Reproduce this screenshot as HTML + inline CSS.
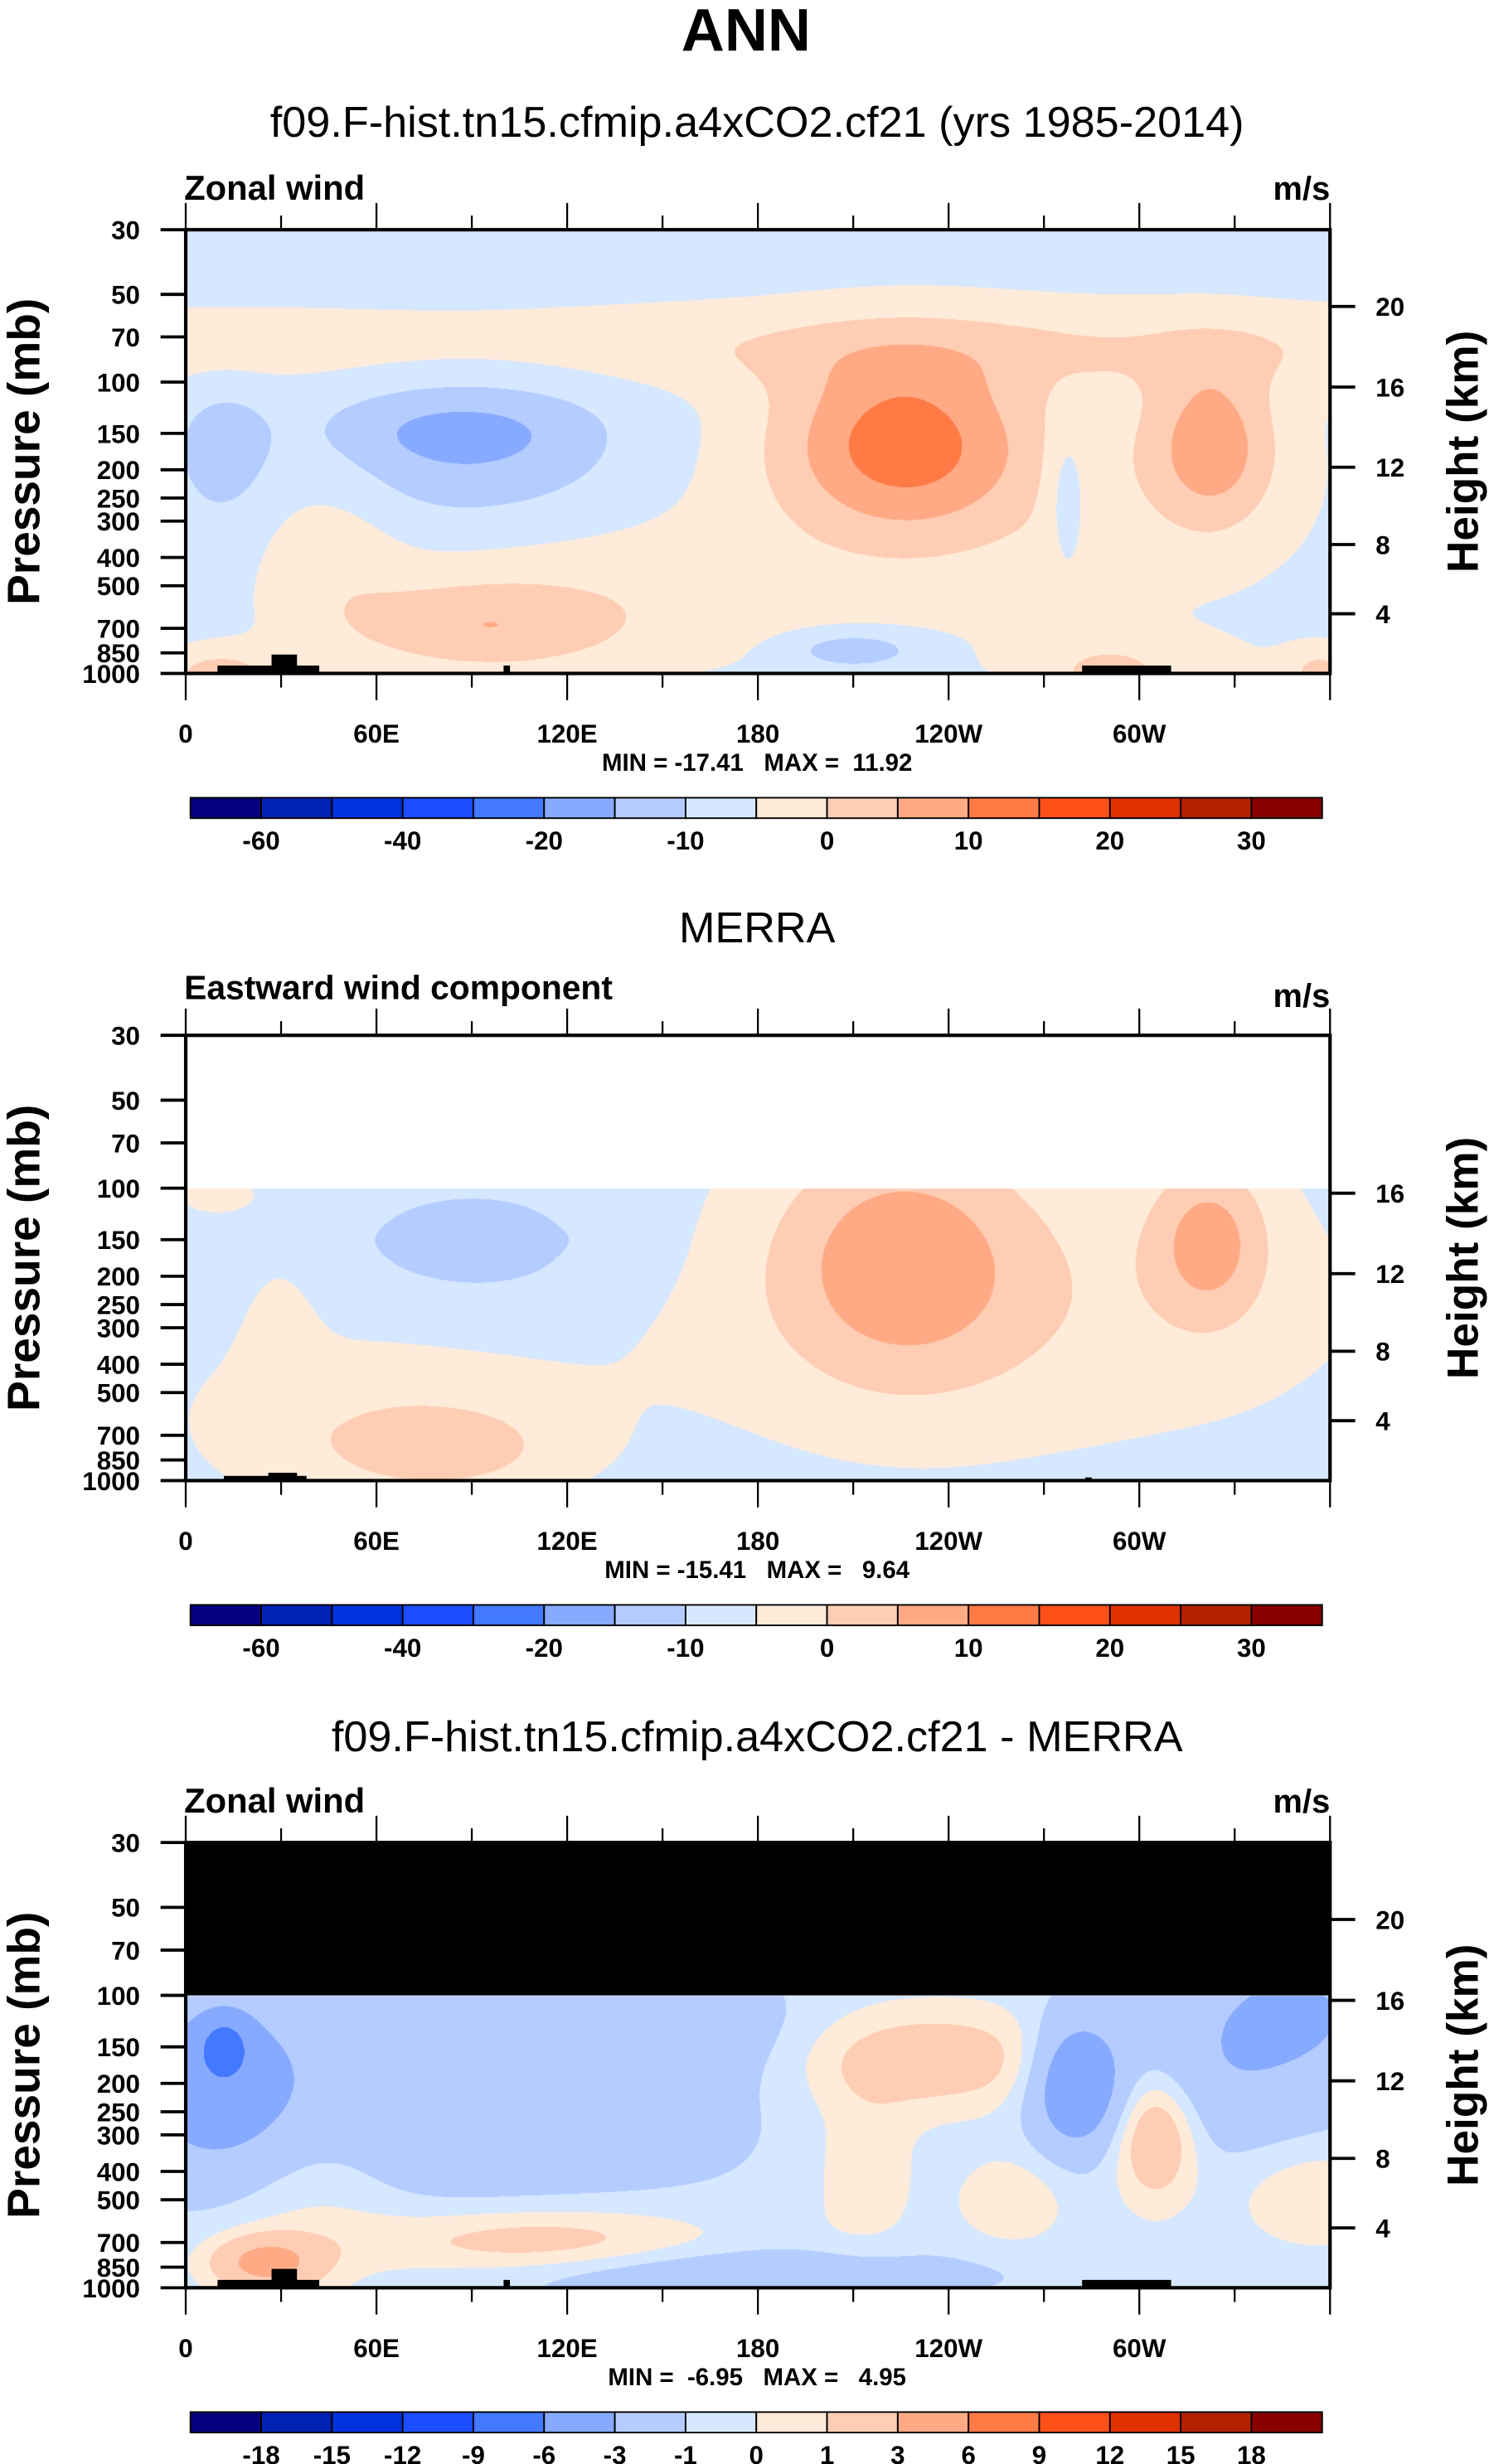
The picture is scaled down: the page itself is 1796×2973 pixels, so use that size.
<!DOCTYPE html>
<html><head><meta charset="utf-8">
<style>
html,body{margin:0;padding:0;background:#fff;}
#wrap{position:relative;width:1796px;height:2973px;overflow:hidden;background:#fff;}
canvas{position:absolute;}
svg{position:absolute;left:0;top:0;}
text{font-family:"Liberation Sans",Arial,sans-serif;white-space:pre;}
</style></head>
<body>
<div id="wrap">
<canvas id="c1"></canvas>
<canvas id="c2"></canvas>
<canvas id="c3"></canvas>
<svg id="svg" width="1796" height="2973" viewBox="0 0 946 1566" preserveAspectRatio="none"></svg>
</div>
<script>
// ---------- data ----------
const colors = ["#06007f","#0022b4","#0033dd","#1a4dff","#4279ff","#86aaff","#b4ccff","#d5e8ff","#ffebd9","#ffcdb4","#ffaa85","#ff7a45","#ff5019","#e03000","#b32200","#880000"];
const levelsWind = [-60,-50,-40,-30,-20,-15,-10,-5,0,5,10,15,20,25,30];
const labelsWind = ["-60","","-40","","-20","","-10","","0","","10","","20","","30"];
const levelsDiff = [-18,-15,-12,-9,-6,-3,-1,0,1,3,6,9,12,15,18];
const labelsDiff = ["-18","-15","-12","-9","-6","-3","-1","0","1","3","6","9","12","15","18"];
const pressTicks = [30,50,70,100,150,200,250,300,400,500,700,850,1000];
const lonTicks = [0,60,120,180,240,300];
const lonLabels = ["0","60E","120E","180","120W","60W"];
const heightTicks = [4,8,12,16,20];
const heightP = [624,361,196,104,55];

// panel 1 field (model): base + blobs [lon, pressure, amplitude, lonWidth, logpWidth]
const p1Base = -7.5;
const p1Lon  = [180, 225, 255, 323, 277, 90, 12, 115, 45, 92, 210, 10, 290, 357, 300, 85];
const p1Pres = [75, 160, 230, 165, 230, 160, 170, 580, 360, 700, 830, 1000, 1000, 1000, 950, 150];
const p1Amp  = [5.5, 16, 5.5, 13, -6, -8, -5, 5, 4.5, 8, -8, 9, 8, 8, 4, -3];
const p1WLon = [1000, 27, 75, 14, 5, 35, 10, 55, 16, 30, 14, 14, 8, 8, 30, 20];
const p1WLp  = [0.25, 0.5, 0.85, 0.45, 0.4, 0.45, 0.38, 0.45, 0.5, 0.25, 0.1, 0.15, 0.1, 0.15, 0.2, 0.15];

// panel 2 field (MERRA)
const p2Base = -7.5;
const p2Lon  = [225, 255, 322, 95, 92, 55, 82, 30, 10];
const p2Pres = [170, 250, 150, 160, 150, 620, 780, 330, 105];
const p2Amp  = [12, 6, 12, -5, -3.5, 5, 7, 4, 4];
const p2WLon = [28, 85, 13, 35, 12, 45, 26, 8, 12];
const p2WLp  = [0.7, 0.85, 0.45, 0.4, 0.06, 0.55, 0.25, 0.5, 0.15];

// panel 3 field (difference)
const p3Base = -0.5;
const p3Lon  = [85, 10, 12, 330, 280, 170, 235, 213, 305, 355, 110, 25, 40, 260, 150, 350];
const p3Pres = [230, 200, 150, 170, 200, 900, 165, 380, 300, 470, 700, 820, 460, 500, 130, 110];
const p3Amp  = [-2.2, -3.4, -4.5, -2.4, -5, -2, 2.6, 1.2, 3.6, 1.4, 2.5, 4.2, 1.1, 1.3, -1.5, -2];
const p3WLon = [60, 18, 5, 30, 10, 55, 30, 12, 9, 18, 38, 12, 20, 12, 30, 15];
const p3WLp  = [0.6, 0.5, 0.15, 0.5, 0.35, 0.15, 0.28, 0.5, 0.35, 0.3, 0.2, 0.15, 0.6, 0.25, 0.3, 0.25];

// ---------- layout ----------
const S = 1796/946;
const X0 = 118, X1 = 845;
const panels = [
 {top:146,bot:428,canvas:'c1',base:p1Base,lon:p1Lon,pres:p1Pres,amp:p1Amp,wl:p1WLon,wp:p1WLp,levels:levelsWind,pmin:30,cbY:507,labels:labelsWind,
  title:"f09.F-hist.tn15.cfmip.a4xCO2.cf21 (yrs 1985-2014)",titleY:87,left:"Zonal wind",leftY:127,lfs:22,minmax:"MIN = -17.41   MAX =  11.92",heights:[4,8,12,16,20],topo:true,name:'model'},
 {top:658,bot:941,canvas:'c2',base:p2Base,lon:p2Lon,pres:p2Pres,amp:p2Amp,wl:p2WLon,wp:p2WLp,levels:levelsWind,pmin:100,cbY:1020,labels:labelsWind,
  title:"MERRA",titleY:599,left:"Eastward wind component",leftY:635,lfs:21.5,minmax:"MIN = -15.41   MAX =   9.64",heights:[4,8,12,16],topo:'small',name:'merra'},
 {top:1171,bot:1454,canvas:'c3',base:p3Base,lon:p3Lon,pres:p3Pres,amp:p3Amp,wl:p3WLon,wp:p3WLp,levels:levelsDiff,pmin:100,cbY:1533,labels:labelsDiff,
  title:"f09.F-hist.tn15.cfmip.a4xCO2.cf21 - MERRA",titleY:1113,left:"Zonal wind",leftY:1152,lfs:22,minmax:"MIN =  -6.95   MAX =   4.95",heights:[4,8,12,16,20],topo:true,black:true,name:'difference'}
];
const LR = Math.log(1000/30);
function xOf(lon){return X0 + (X1-X0)*lon/360;}
function yOf(pn,p){return pn.bot - (pn.bot-pn.top)*Math.log(1000/p)/LR;}

function field(pn,lon,p){
  let v = pn.base;
  for(let i=0;i<pn.lon.length;i++){
    const dl=(lon-pn.lon[i])/pn.wl[i];
    const dp=Math.log(p/pn.pres[i])/pn.wp[i];
    v += pn.amp[i]*Math.exp(-0.5*(dl*dl+dp*dp));
  }
  return v;
}

panels.forEach(pn=>{
  const c=document.getElementById(pn.canvas);
  const L=Math.round(X0*S), T=Math.round(pn.top*S), W=Math.round((X1-X0)*S), H=Math.round((pn.bot-pn.top)*S);
  c.style.left=L+'px'; c.style.top=T+'px'; c.width=W; c.height=H;
  const ctx=c.getContext('2d');
  const img=ctx.createImageData(W,H);
  const rgb=colors.map(h=>[parseInt(h.slice(1,3),16),parseInt(h.slice(3,5),16),parseInt(h.slice(5,7),16)]);
  for(let y=0;y<H;y++){
    const p=1000*Math.exp(-(H-y)/H*LR);
    for(let x=0;x<W;x++){
      let r=255,g=255,b=255;
      if(p>=pn.pmin){
        const v=field(pn,x/W*360,p);
        let k=0; while(k<pn.levels.length && v>=pn.levels[k]) k++;
        [r,g,b]=rgb[k];
      }
      const o=(y*W+x)*4; img.data[o]=r;img.data[o+1]=g;img.data[o+2]=b;img.data[o+3]=255;
    }
  }
  ctx.putImageData(img,0,0);
});

// ---------- SVG overlay ----------
const svg=document.getElementById('svg');
const NS='http://www.w3.org/2000/svg';
function mk(tag,attrs,parent){const e=document.createElementNS(NS,tag);for(const k in attrs)e.setAttribute(k,attrs[k]);(parent||svg).appendChild(e);return e;}
function txt(s,attrs,parent){const e=mk('text',attrs,parent);e.textContent=s;return e;}

const t0=txt("ANN",{x:474,y:32,'text-anchor':'middle','font-size':38,'font-weight':'bold'});



panels.forEach((pn,pi)=>{
  const g=mk('g',{});
  
  
  const tt=txt(pn.title,{x:481,y:pn.titleY,'text-anchor':'middle','font-size':27.5},g);
  
  
  const lt=txt(pn.left,{x:117,y:pn.leftY,'font-size':pn.lfs,'font-weight':'bold'},g);
  
  
  const ut=txt("m/s",{x:845,y:pn.leftY+(pi==1?5:0),'text-anchor':'end','font-size':21,'font-weight':'bold'},g);
  
  
  if(pn.black){
    const br=mk('rect',{x:X0,y:pn.top,width:X1-X0,height:yOf(pn,100)-pn.top,fill:'#000'},g);
    
    
  }
  const topo = pn.topo===true ? [[10,42,5],[27,35,12],[100,102,5],[282,310,5]] : [[12,38,3],[26,35,5],[283,285,2]];
  topo.forEach(t=>{
    const r=mk('rect',{x:xOf(t[0]),y:pn.bot-t[2],width:xOf(t[1])-xOf(t[0]),height:t[2],fill:'#000'},g);
    
    
  });
  const fr=mk('rect',{x:X0,y:pn.top,width:X1-X0,height:pn.bot-pn.top,fill:'none',stroke:'#000','stroke-width':2.2},g);
  
  
  for(let lon=0;lon<=360;lon+=30){
    const len = lon%60===0?17:9;
    const x=xOf(lon);
    mk('line',{x1:x,y1:pn.top,x2:x,y2:pn.top-len,stroke:'#000','stroke-width':1.2},g);
    mk('line',{x1:x,y1:pn.bot,x2:x,y2:pn.bot+len,stroke:'#000','stroke-width':1.2},g);
  }
  lonTicks.forEach((lon,i)=>{
    const l=txt(lonLabels[i],{x:xOf(lon),y:pn.bot+44,'text-anchor':'middle','font-size':16.5,'font-weight':'bold'},g);
    
    
  });
  pressTicks.forEach(p=>{
    const y=yOf(pn,p);
    mk('line',{x1:X0,y1:y,x2:X0-16,y2:y,stroke:'#000','stroke-width':2},g);
    const l=txt(String(p),{x:89,y:y+6,'text-anchor':'end','font-size':16.5,'font-weight':'bold'},g);
    
    
  });
  pn.heights.forEach(h=>{
    const y=yOf(pn,heightP[heightTicks.indexOf(h)]);
    mk('line',{x1:X1,y1:y,x2:X1+16,y2:y,stroke:'#000','stroke-width':2},g);
    const l=txt(String(h),{x:874,y:y+6,'font-size':16.5,'font-weight':'bold'},g);
    
    
  });
  const cy=(pn.top+pn.bot)/2;
  const ya=txt("Pressure (mb)",{x:0,y:0,'text-anchor':'middle','font-size':29,'font-weight':'bold',transform:`translate(25,${cy}) rotate(-90)`},g);
  
  
  const ha=txt("Height (km)",{x:0,y:0,'text-anchor':'middle','font-size':28,'font-weight':'bold',transform:`translate(939,${cy}) rotate(-90)`},g);
  
  
  const mm=txt(pn.minmax,{x:481,y:pn.bot+62,'text-anchor':'middle','font-size':15.5,'font-weight':'bold'},g);
  
  
  const cb=mk('g',{},g);
  
  
  const bw=(840-121)/16;
  colors.forEach((c,i)=>{
    const r=mk('rect',{x:121+i*bw,y:pn.cbY,width:bw,height:13,fill:c,stroke:'#000','stroke-width':1},cb);
    
    
  });
  pn.labels.forEach((s,i)=>{
    if(!s) return;
    const l=txt(s,{x:121+(i+1)*bw,y:pn.cbY+33,'text-anchor':'middle','font-size':16.5,'font-weight':'bold'},cb);
    
    
  });
});
</script>
</body></html>
